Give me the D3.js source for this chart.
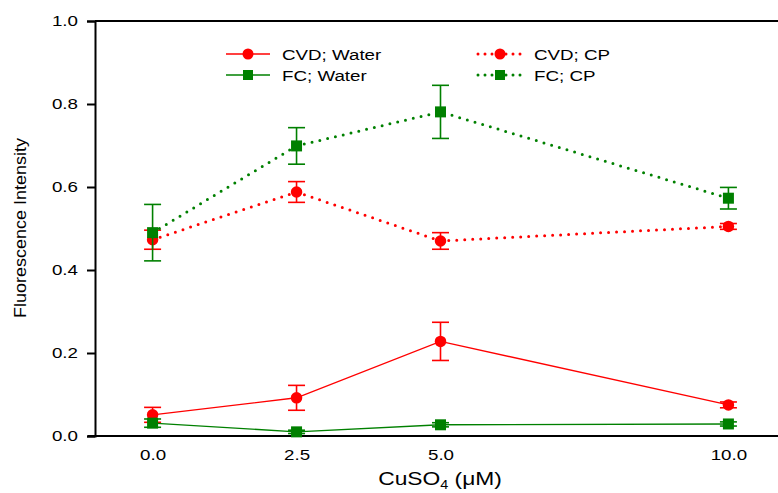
<!DOCTYPE html>
<html>
<head>
<meta charset="utf-8">
<script src="https://cdn.jsdelivr.net/npm/d3@7"></script>
<style>
  body { margin: 0; background: #fff; }
  text { font-family: "Liberation Sans", Arial, sans-serif; fill: #000; }
</style>
</head>
<body>
<div id="chart"></div>
<script>
// Data
const concentrations = [0, 2.5, 5, 10];
const xTickLabels = ["0.0", "2.5", "5.0", "10.0"];
const yTicks = [0, 0.2, 0.4, 0.6, 0.8, 1.0];

const cvdWater = [0.051, 0.092, 0.228, 0.075];
const cvdWaterErr = [0.018, 0.030, 0.046, 0.007];
const fcWater = [0.031, 0.010, 0.027, 0.029];
const fcWaterErr = [0.010, 0.004, 0.005, 0.005];
const cvdCP = [0.473, 0.588, 0.470, 0.505];
const cvdCPErr = [0.023, 0.025, 0.020, 0.007];
const fcCP = [0.490, 0.699, 0.781, 0.573];
const fcCPErr = [0.068, 0.044, 0.064, 0.026];

const series = [
  { name: "CVD; Water", values: cvdWater, err: cvdWaterErr, color: "#ff0000", shape: "circle", dotted: false },
  { name: "FC; Water", values: fcWater, err: fcWaterErr, color: "#008000", shape: "square", dotted: false },
  { name: "CVD; CP", values: cvdCP, err: cvdCPErr, color: "#ff0000", shape: "circle", dotted: true },
  { name: "FC; CP", values: fcCP, err: fcCPErr, color: "#008000", shape: "square", dotted: true }
];

const width = 778, height = 493;
const stretch = 1.25; // the reference text is widened horizontally

const svg = d3.select("#chart").append("svg")
  .attr("width", width)
  .attr("height", height);

const x = d3.scaleLinear().domain([-1, 11]).range([95, 786]);
const y = d3.scaleLinear().domain([0, 1]).range([436, 21]);

// frame line on top, runs to the right edge
svg.append("line")
  .attr("x1", 95).attr("x2", width).attr("y1", y(1)).attr("y2", y(1))
  .attr("stroke", "#000").attr("stroke-width", 2);

// y axis
const yAxis = svg.append("g")
  .attr("transform", `translate(${x(-1)},0)`)
  .call(d3.axisLeft(y).tickValues(yTicks).tickFormat(d3.format(".1f")).tickSize(8).tickPadding(5.6));
yAxis.select(".domain").attr("stroke-width", 2);
yAxis.selectAll(".tick line").attr("stroke-width", 2);
yAxis.selectAll("text")
  .attr("font-size", 15)
  .attr("font-family", "Liberation Sans, Arial, sans-serif")
  .attr("transform", `scale(${stretch},1)`);

// x axis (no tick marks)
const xAxis = svg.append("g")
  .attr("transform", `translate(0,${y(0)})`)
  .call(d3.axisBottom(x).tickValues(concentrations)
    .tickFormat((d, i) => xTickLabels[i]).tickSize(0).tickPadding(13));
xAxis.select(".domain").attr("stroke-width", 2).attr("d", `M88,0H${width}`);
xAxis.selectAll("text")
  .attr("font-size", 15)
  .attr("font-family", "Liberation Sans, Arial, sans-serif")
  .attr("transform", `scale(${stretch},1)`);

// axis titles
svg.append("text")
  .attr("transform", "translate(26,228) rotate(-90)")
  .attr("text-anchor", "middle")
  .attr("font-size", 17)
  .attr("textLength", 180)
  .attr("lengthAdjust", "spacingAndGlyphs")
  .text("Fluorescence Intensity");

const xTitle = svg.append("text")
  .attr("transform", `translate(440,485) scale(1.2,1)`)
  .attr("text-anchor", "middle")
  .attr("font-size", 19);
xTitle.append("tspan").text("CuSO");
xTitle.append("tspan").attr("font-size", 12).attr("dy", 4).text("4");
xTitle.append("tspan").attr("dy", -4).text(" (\u03bcM)");

// data
const line = d3.line().x((d, i) => x(concentrations[i])).y(d => y(d));

function drawMarker(g, shape, cx, cy, color, size) {
  if (shape === "circle") {
    g.append("circle").attr("cx", cx).attr("cy", cy).attr("r", size / 2).attr("fill", color);
  } else {
    g.append("rect").attr("x", cx - size / 2).attr("y", cy - size / 2)
      .attr("width", size).attr("height", size).attr("fill", color);
  }
}

series.forEach(s => {
  const g = svg.append("g");
  g.append("path")
    .datum(s.values)
    .attr("d", line)
    .attr("fill", "none")
    .attr("stroke", s.color)
    .attr("stroke-width", s.dotted ? 3 : 1.4)
    .attr("stroke-linecap", s.dotted ? "round" : "butt")
    .attr("stroke-dasharray", s.dotted ? "0,8" : null);

  s.values.forEach((v, i) => {
    const cx = x(concentrations[i]);
    const top = y(v + s.err[i]), bot = y(v - s.err[i]);
    g.append("line").attr("x1", cx).attr("x2", cx).attr("y1", top).attr("y2", bot)
      .attr("stroke", s.color).attr("stroke-width", 1.6);
    [top, bot].forEach(yy => {
      g.append("line").attr("x1", cx - 8.5).attr("x2", cx + 8.5).attr("y1", yy).attr("y2", yy)
        .attr("stroke", s.color).attr("stroke-width", 1.6);
    });
    drawMarker(g, s.shape, cx, y(v), s.color, s.shape === "circle" ? 11.5 : 11);
  });
});

// legend
const legendPos = [
  { x: 226, y: 54 }, { x: 226, y: 75 }, { x: 478, y: 54 }, { x: 478, y: 75 }
];
series.forEach((s, i) => {
  const p = legendPos[i];
  const g = svg.append("g");
  g.append("line")
    .attr("x1", p.x).attr("x2", p.x + 44).attr("y1", p.y).attr("y2", p.y)
    .attr("stroke", s.color)
    .attr("stroke-width", s.dotted ? 3 : 1.4)
    .attr("stroke-linecap", s.dotted ? "round" : "butt")
    .attr("stroke-dasharray", s.dotted ? "0,7" : null);
  drawMarker(g, s.shape, p.x + 22, p.y, s.color, s.shape === "circle" ? 11 : 10);
  g.append("text")
    .attr("transform", `translate(${p.x + 56},${p.y + 6}) scale(${stretch},1)`)
    .attr("font-size", 15)
    .text(s.name);
});
</script>
</body>
</html>
